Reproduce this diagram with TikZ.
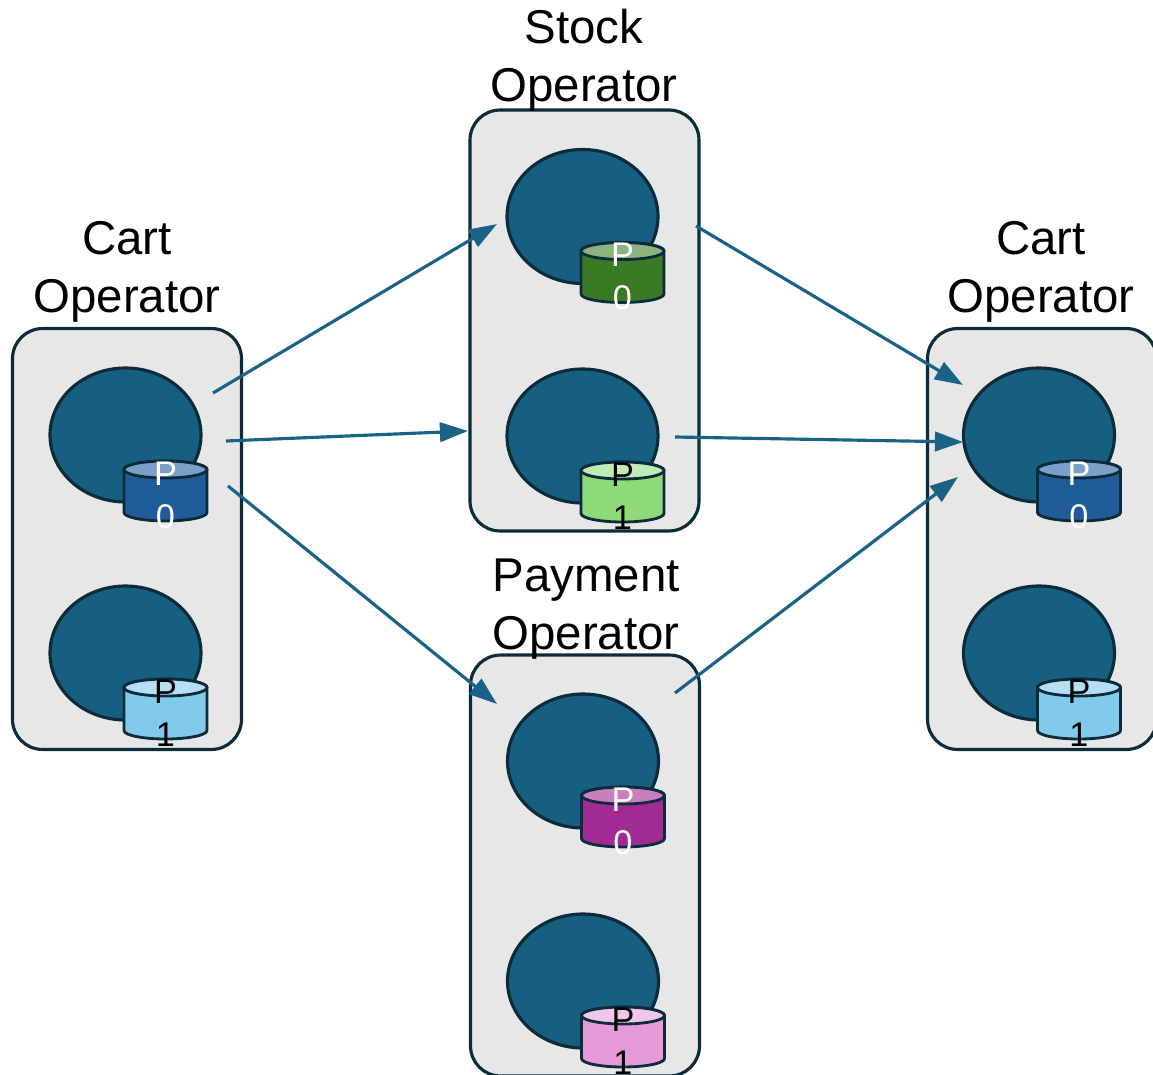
\documentclass[tikz,border=0pt]{standalone}
\usepackage{fontspec}
\setmainfont{Liberation Sans}
\usetikzlibrary{shapes.geometric,arrows.meta}

\definecolor{boxfill}{HTML}{E7E7E7}
\definecolor{edge}{HTML}{0D2C3B}
\definecolor{taskfill}{HTML}{175F81}
\definecolor{flowcol}{HTML}{1B6386}
\definecolor{cartA}{HTML}{215C9A}
\definecolor{cartAtop}{HTML}{7B9FC6}
\definecolor{cartB}{HTML}{82CAEB}
\definecolor{cartBtop}{HTML}{B6DFF3}
\definecolor{stockA}{HTML}{3A7A24}
\definecolor{stockAtop}{HTML}{8CB37F}
\definecolor{stockB}{HTML}{8EDA78}
\definecolor{stockBtop}{HTML}{C0EBB3}
\definecolor{payA}{HTML}{A02B93}
\definecolor{payAtop}{HTML}{C87FBD}
\definecolor{payB}{HTML}{E69BD9}
\definecolor{payBtop}{HTML}{F0C6EA}

\tikzset{
  opbox/.style={draw=edge, line width=1.8pt, fill=boxfill, rounded corners=0.6cm,
    minimum width=4.58cm, minimum height=8.42cm, inner sep=0pt},
  task/.style={ellipse, draw=edge, line width=1.8pt, fill=taskfill,
    minimum width=3.02cm, minimum height=2.68cm, inner sep=0pt},
  cyl/.style={draw=edge, line width=1.6pt},
  ptext/.style={align=center, inner sep=0pt, font=\fontsize{19.5}{24.5}\selectfont},
  oplabel/.style={align=center, inner sep=0pt, anchor=north,
    font=\fontsize{27}{33}\selectfont},
  flow/.style={draw=flowcol, line width=1.8pt, -{Triangle[length=16pt,width=11pt]}},
}

% task instance with its state partition drawn as a small cylinder
% #1 name, #2 x, #3 y (downwards), #4 body, #5 lid, #6 text colour, #7 partition
\newcommand\taskunit[7]{%
  \node[task] (#1) at (#2,-#3) {};
  \pgfmathsetmacro\cylL{#2-1.5}
  \pgfmathsetmacro\cylR{#2+81.5}
  \pgfmathsetmacro\cylC{#2+40}
  \pgfmathsetmacro\cylT{-#3-34.5}
  \pgfmathsetmacro\cylB{-#3-77.5}
  \pgfmathsetmacro\cylM{-#3-60}
  \filldraw[cyl, fill=#4] (\cylL,\cylT) -- (\cylL,\cylB)
    arc[start angle=180, end angle=360, x radius=0.83cm, y radius=0.17cm]
    -- (\cylR,\cylT)
    arc[start angle=0, end angle=180, x radius=0.83cm, y radius=0.17cm] -- cycle;
  \filldraw[cyl, fill=#5] (\cylC,\cylT) ellipse[x radius=0.83cm, y radius=0.17cm];
  \node[ptext, text=#6] (#1-db) at (\cylC,\cylM) {P\\#7};
}

\begin{document}
\begin{tikzpicture}[x=0.02cm, y=0.02cm]
  \useasboundingbox (0,0) rectangle (1153,-1075);

  % operator frames
  \node[opbox] (cartL)  at (127,-539)   {};
  \node[opbox] (stock)  at (584.5,-320.5) {};
  \node[opbox] (cartR)  at (1042,-539)  {};
  \node[opbox] (pay)    at (585,-865.5) {};

  % parallel instances
  \taskunit{cl0}{125.5}{435}{cartA}{cartAtop}{white}{0}
  \taskunit{cl1}{125.5}{653}{cartB}{cartBtop}{black}{1}
  \taskunit{st0}{582.5}{216.5}{stockA}{stockAtop}{white}{0}
  \taskunit{st1}{582.5}{436}{stockB}{stockBtop}{black}{1}
  \taskunit{cr0}{1039}{435}{cartA}{cartAtop}{white}{0}
  \taskunit{cr1}{1039}{653}{cartB}{cartBtop}{black}{1}
  \taskunit{pa0}{583}{761}{payA}{payAtop}{white}{0}
  \taskunit{pa1}{583}{981}{payB}{payBtop}{black}{1}

  % operator titles
  \node[oplabel] (cartLlbl) at (127,-221)  {Cart\\Operator};
  \node[oplabel] (stocklbl) at (584,-9)    {Stock\\Operator};
  \node[oplabel] (cartRlbl) at (1041,-221) {Cart\\Operator};
  \node[oplabel] (paylbl)   at (586,-559)  {Payment\\Operator};

  % message flow end points
  \coordinate (f1s) at (213,-393);  \coordinate (f1e) at (497,-224);
  \coordinate (f2s) at (226,-441);  \coordinate (f2e) at (468,-431);
  \coordinate (f3s) at (228,-486);  \coordinate (f3e) at (497,-704);
  \coordinate (f4s) at (696,-226);  \coordinate (f4e) at (963,-385);
  \coordinate (f5s) at (675,-437);  \coordinate (f5e) at (963,-442);
  \coordinate (f6s) at (675,-693);  \coordinate (f6e) at (958,-477);

  \draw[flow] (f1s) -- (f1e);
  \draw[flow] (f2s) -- (f2e);
  \draw[flow] (f3s) -- (f3e);
  \draw[flow] (f4s) -- (f4e);
  \draw[flow] (f5s) -- (f5e);
  \draw[flow] (f6s) -- (f6e);
\end{tikzpicture}
\end{document}
